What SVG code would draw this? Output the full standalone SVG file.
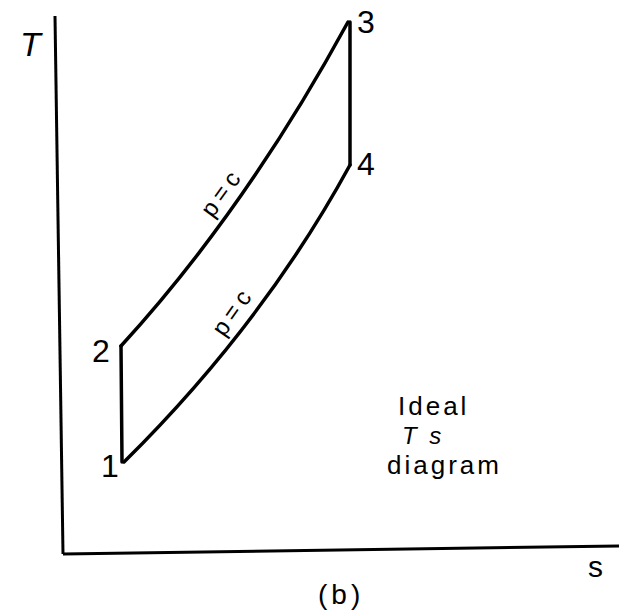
<svg xmlns="http://www.w3.org/2000/svg" width="619" height="610" viewBox="0 0 619 610">
<style>
.ln{fill:none;stroke:#000;stroke-width:3.5;stroke-linejoin:round;stroke-linecap:round}
.ax{fill:none;stroke:#000;stroke-width:3}
.t{font-family:"Liberation Sans",Arial,sans-serif;fill:#000}
.num{font-size:32px}
.it{font-style:italic}
.lab{font-size:24px;letter-spacing:5px}
.cap{font-size:26px;letter-spacing:3px}
</style>
<rect width="619" height="610" fill="#fff"/>
<g id="axes">
<path class="ax" d="M55,16 L63,554"/>
<path class="ax" d="M63,554 L619,546"/>
<text class="t it" x="20" y="56" font-size="34">T</text>
<text class="t" x="588" y="577" font-size="30">s</text>
<text class="t" x="318" y="604" font-size="28" letter-spacing="4">(b)</text>
</g>
<g id="connectors">
<path class="ln" d="M121,346 Q245.5,210 348,22"/>
<path class="ln" d="M350,22 L350,165"/>
<path class="ln" d="M124,462 Q263,324.5 350,165"/>
<path class="ln" d="M121,346 L122,462"/>
</g>
<g id="label-p-upper">
<text class="t lab" transform="translate(222,192) rotate(-54)" x="0" y="8" text-anchor="middle">p=c</text>
</g>
<g id="label-p-lower">
<text class="t lab" transform="translate(233,311) rotate(-55)" x="0" y="8" text-anchor="middle">p=c</text>
</g>
<g id="node-1"><text class="t num" x="101" y="477">1</text></g>
<g id="node-2"><text class="t num" x="92" y="362">2</text></g>
<g id="node-3"><text class="t num" x="357" y="33">3</text></g>
<g id="node-4"><text class="t num" x="357" y="175">4</text></g>
<g id="caption">
<text class="t cap" x="398" y="415">Ideal</text>
<text class="t it" x="402" y="444" font-size="24" letter-spacing="3">T s</text>
<text class="t cap" x="387" y="474">diagram</text>
</g>
</svg>
